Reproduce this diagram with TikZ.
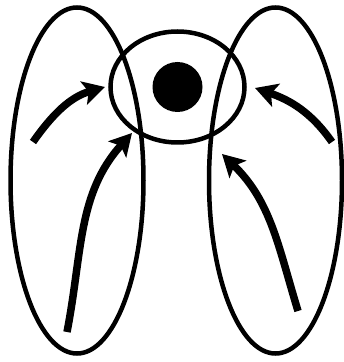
\documentclass[tikz,border=0pt]{standalone}
\usepackage{tikz}
\usetikzlibrary{shapes,arrows.meta,positioning,calc}

\begin{document}
\begin{tikzpicture}[x=1pt, y=1pt,
    lobe/.style={ellipse, draw, line width=4.5pt, inner sep=0pt, minimum width=133pt, minimum height=346pt},
    ring/.style={ellipse, draw, line width=4.5pt, inner sep=0pt, minimum width=134pt, minimum height=111pt},
    core/.style={circle, fill=black, inner sep=0pt, minimum size=50pt},
    flow/.style={-{Stealth[length=22pt, width=24pt, inset=5pt]}, line width=7.5pt}
]
\useasboundingbox (0,0) rectangle (344,362);

\node[lobe] (leftlobe) at (77,181.5) {};
\node[lobe] (rightlobe) at (275.5,181.5) {};
\node[ring] (ring) at (177.5,275) {};
\node[core] (core) at (ring.center) {};

% ends of the arrows
\coordinate (lu0) at (33,220);
\coordinate (lu1) at (105,275);
\coordinate (ll0) at (67,30);
\coordinate (ll1) at (132,229);
\coordinate (ru0) at (332,220);
\coordinate (ru1) at (255,274);
\coordinate (rl0) at (298,51);
\coordinate (rl1) at (222,208);

\draw[flow] (lu0) to[out=55, in=196] (lu1);
\draw[flow] (ll0) to[out=79, in=228] (ll1);
\draw[flow] (ru0) to[out=125, in=-19] (ru1);
\draw[flow] (rl0) to[out=107, in=-44] (rl1);
\end{tikzpicture}
\end{document}
